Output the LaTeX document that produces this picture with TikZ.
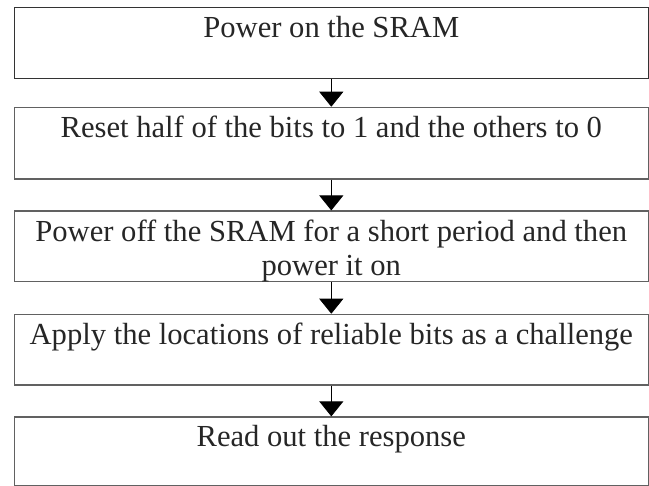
\documentclass[tikz,border=0pt]{standalone}
\usepackage{fontspec}
\setmainfont{Liberation Serif}
\usetikzlibrary{arrows.meta}

% Text of a step: top-aligned in a box of the given height
\newcommand{\steptext}[2]{\parbox[c][#1][t]{628pt}{\vspace*{6.2pt}\centering\strut #2\strut}}

\tikzset{
  stepbox/.style={draw=black!62, line width=1.2pt, inner sep=0pt,
    minimum width=634pt, text=black!85, font=\fontsize{30.6}{34}\selectfont},
  flow/.style={draw=black, line width=0.8pt,
    -{Triangle[width=24pt,length=15pt]}},
}

\begin{document}
\begin{tikzpicture}[x=1pt, y=-1pt]
  \useasboundingbox (0,0) rectangle (649,486);

  \node[stepbox, draw=black!80] (s1) at (331.3,43.0)
    {\steptext{71.4pt}{Power on the SRAM}};
  \node[stepbox] (s2) at (331.3,143.2)
    {\steptext{71.7pt}{Reset half of the bits to 1 and the others to 0}};
  \node[stepbox] (s3) at (331.3,246.2)
    {\steptext{70.3pt}{Power off the SRAM for a short period and then\\power it on}};
  \node[stepbox] (s4) at (331.3,349.7)
    {\steptext{70.7pt}{Apply the locations of reliable bits as a challenge}};
  \node[stepbox] (s5) at (331.3,451.5)
    {\steptext{69pt}{Read out the response}};

  \draw[flow] (s1.south) -- (s2.north);
  \draw[flow] (s2.south) -- (s3.north);
  \draw[flow] (s3.south) -- (s4.north);
  \draw[flow] (s4.south) -- (s5.north);
\end{tikzpicture}
\end{document}
